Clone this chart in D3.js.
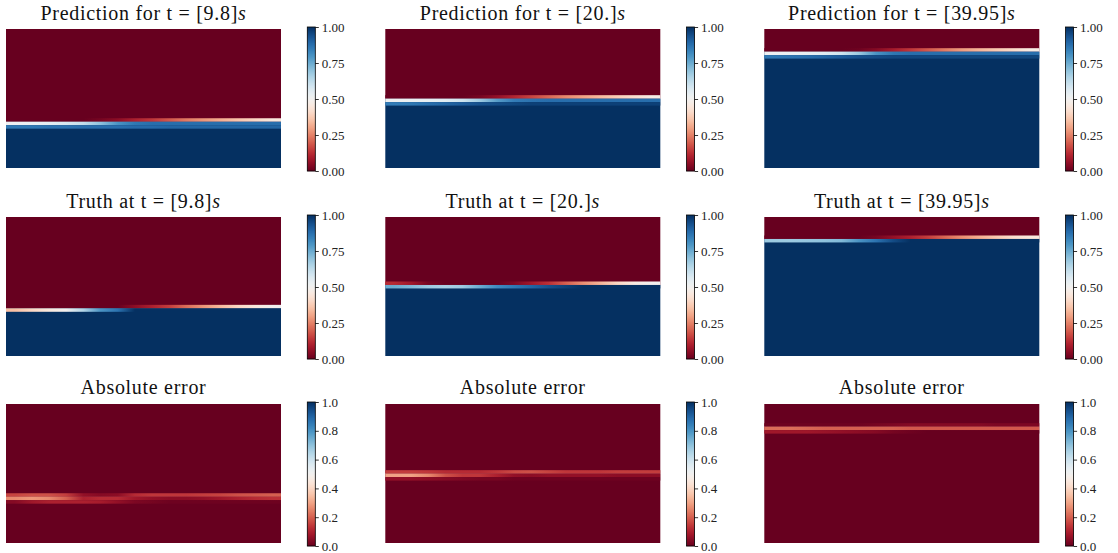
<!DOCTYPE html>
<html>
<head>
<meta charset="utf-8">
<script src="https://cdn.jsdelivr.net/npm/d3@7"></script>
<style>
  html, body { margin: 0; padding: 0; background: #fff; }
  svg { display: block; }
  .title { font-family: "Liberation Serif", "DejaVu Serif", serif; font-size: 20px; letter-spacing: 0.7px; fill: #111; }
  .cbar text { font-family: "Liberation Serif", "DejaVu Serif", serif; font-size: 13px; fill: #222; }
</style>
</head>
<body>
<svg id="fig" width="1118" height="553"></svg>
<script>
// Snapshot times shown in each column
const timeLabels = ["[9.8]", "[20.]", "[39.95]"];

// Height of the phase interface (fraction of tank depth) for each snapshot
const predLevel  = [0.333, 0.499, 0.837];
const truthLevel = [0.343, 0.511, 0.842];

// Volume-fraction samples along the tank (16 columns, left to right) in the mesh rows
// next to the interface: "Above" is the row just above it, "Below1/Below2" the rows under it.
const predAbove = [
  [0, 0, 0, 0, 0, 0.02, 0.05, 0.10, 0.14, 0.19, 0.24, 0.28, 0.32, 0.36, 0.40, 0.45],
  [0, 0, 0, 0, 0, 0.02, 0.06, 0.11, 0.16, 0.21, 0.26, 0.30, 0.34, 0.38, 0.42, 0.47],
  [0, 0, 0, 0, 0, 0.01, 0.04, 0.09, 0.14, 0.19, 0.24, 0.29, 0.33, 0.37, 0.41, 0.47]
];
const predBelow1 = [
  [0.52, 0.53, 0.55, 0.58, 0.62, 0.70, 0.80, 0.86, 0.88, 0.88, 0.88, 0.88, 0.88, 0.88, 0.88, 0.88],
  [0.52, 0.53, 0.54, 0.56, 0.60, 0.68, 0.78, 0.85, 0.87, 0.88, 0.88, 0.88, 0.88, 0.88, 0.88, 0.88],
  [0.52, 0.53, 0.54, 0.56, 0.60, 0.68, 0.80, 0.86, 0.88, 0.88, 0.88, 0.88, 0.88, 0.88, 0.88, 0.88]
];
const predBelow2 = [
  [0.86, 0.86, 0.87, 0.87, 0.88, 0.88, 0.88, 0.89, 0.89, 0.90, 0.90, 0.90, 0.90, 0.90, 0.90, 0.90],
  [0.85, 0.86, 0.88, 0.90, 0.92, 0.94, 0.95, 0.96, 0.97, 0.97, 0.97, 0.97, 0.97, 0.97, 0.97, 0.97],
  [0.86, 0.87, 0.88, 0.90, 0.92, 0.94, 0.95, 0.96, 0.96, 0.96, 0.96, 0.96, 0.96, 0.96, 0.96, 0.96]
];
const truthAbove = [
  [0, 0, 0, 0, 0, 0, 0, 0.05, 0.10, 0.15, 0.22, 0.28, 0.34, 0.40, 0.45, 0.50],
  [0.12, 0.08, 0.02, 0, 0, 0, 0, 0.03, 0.08, 0.13, 0.20, 0.27, 0.33, 0.40, 0.46, 0.50],
  [0, 0, 0, 0, 0, 0, 0.02, 0.06, 0.10, 0.15, 0.21, 0.27, 0.32, 0.37, 0.42, 0.45]
];
const truthBelow1 = [
  [0.35, 0.40, 0.45, 0.50, 0.65, 0.80, 0.87, 1, 1, 1, 1, 1, 1, 1, 1, 1],
  [0.75, 0.72, 0.68, 0.66, 0.68, 0.75, 0.82, 0.86, 0.90, 0.94, 0.97, 1, 1, 1, 1, 1],
  [0.68, 0.68, 0.69, 0.70, 0.72, 0.80, 0.87, 0.95, 1, 1, 1, 1, 1, 1, 1, 1]
];
const errAbove = [
  [0.16, 0.18, 0.18, 0.15, 0.06, 0.04, 0.05, 0.12, 0.14, 0.14, 0.14, 0.15, 0.16, 0.18, 0.19, 0.20],
  [0.15, 0.15, 0.14, 0.12, 0.12, 0.12, 0.14, 0.17, 0.18, 0.16, 0.14, 0.14, 0.14, 0.15, 0.15, 0.15],
  [0.01, 0.01, 0.01, 0.01, 0.01, 0.01, 0.02, 0.03, 0.04, 0.04, 0.04, 0.04, 0.04, 0.03, 0.03, 0.03]
];
const errBelow1 = [
  [0.26, 0.28, 0.26, 0.20, 0.10, 0.12, 0.12, 0.08, 0.06, 0.05, 0.05, 0.06, 0.08, 0.10, 0.12, 0.13],
  [0.30, 0.30, 0.26, 0.18, 0.14, 0.14, 0.10, 0.06, 0.05, 0.06, 0.06, 0.06, 0.06, 0.05, 0.05, 0.05],
  [0.22, 0.22, 0.21, 0.20, 0.20, 0.20, 0.20, 0.20, 0.19, 0.19, 0.19, 0.19, 0.19, 0.19, 0.19, 0.19]
];
const errBelow2 = [
  [0.04, 0.08, 0.10, 0.10, 0.10, 0.09, 0.06, 0.03, 0.02, 0.01, 0.01, 0.01, 0.01, 0.01, 0.01, 0.01],
  [0.06, 0.06, 0.05, 0.04, 0.03, 0.02, 0.02, 0.01, 0.01, 0.01, 0.01, 0.01, 0.01, 0.01, 0.01, 0.01],
  [0.08, 0.08, 0.08, 0.07, 0.06, 0.05, 0.04, 0.02, 0.01, 0, 0, 0, 0, 0, 0, 0]
];

// Colorbar ticks
const fieldTicks = [0, 0.25, 0.5, 0.75, 1];
const errorTicks = [0, 0.2, 0.4, 0.6, 0.8, 1];

// ---- layout ----
const colLeft = [6, 385.3, 764.3];
const rowTop = [29, 217, 404];
const mapW = 275, mapH = 139;
const cbOffset = 301.3, cbW = 8, cbH = 144;
const titleBase = [20, 207.5, 394];
const rowDy = 0.025;              // mesh row height in tank-depth units
const tankLen = 2;                // tank length / depth

const svg = d3.select("#fig");
const defs = svg.append("defs");
const color = d3.scaleSequential(d3.interpolateRdBu).domain([0, 1]);
let gradId = 0;

function bandFill(values) {
  const id = "band" + (gradId++);
  const g = defs.append("linearGradient").attr("id", id)
    .attr("x1", "0").attr("x2", "1").attr("y1", "0").attr("y2", "0");
  const n = values.length;
  g.selectAll("stop").data(values).join("stop")
    .attr("offset", (d, i) => (i + 0.5) / n)
    .attr("stop-color", d => color(d));
  return "url(#" + id + ")";
}

function drawField(col, row, level, topVal, bottomVal, rows) {
  const x = d3.scaleLinear().domain([0, tankLen]).range([colLeft[col], colLeft[col] + mapW]);
  const y = d3.scaleLinear().domain([0, 1]).range([rowTop[row] + mapH, rowTop[row]]);
  const g = svg.append("g");
  // bulk of each phase
  g.append("rect").attr("x", x(0)).attr("width", x(tankLen) - x(0))
    .attr("y", y(1)).attr("height", y(level) - y(1)).attr("fill", color(topVal));
  g.append("rect").attr("x", x(0)).attr("width", x(tankLen) - x(0))
    .attr("y", y(level)).attr("height", y(0) - y(level)).attr("fill", color(bottomVal));
  // mesh rows around the interface
  rows.forEach(r => {
    const y0 = level + r.k * rowDy, y1 = y0 + rowDy;
    g.append("rect").attr("x", x(0)).attr("width", x(tankLen) - x(0))
      .attr("y", y(y1)).attr("height", y(y0) - y(y1))
      .attr("fill", bandFill(r.values));
  });
}

function drawColorbar(col, row, ticks, fmt) {
  const left = colLeft[col] + cbOffset, top = rowTop[row] - 2;
  const s = d3.scaleLinear().domain([0, 1]).range([top + cbH, top]);
  const g = svg.append("g").attr("class", "cbar");
  const steps = d3.range(0, cbH);
  g.selectAll("rect.step").data(steps).join("rect").attr("class", "step")
    .attr("x", left).attr("width", cbW)
    .attr("y", d => top + cbH - d - 1).attr("height", 1.2)
    .attr("fill", d => color((d + 0.5) / cbH));
  g.append("rect").attr("x", left).attr("y", top).attr("width", cbW).attr("height", cbH)
    .attr("fill", "none").attr("stroke", "#000").attr("stroke-width", 0.8);
  const ax = g.append("g").attr("transform", `translate(${left + cbW},0)`)
    .call(d3.axisRight(s).tickValues(ticks).tickFormat(d3.format(fmt)).tickSize(3.5).tickPadding(3));
  ax.select(".domain").remove();
  ax.selectAll(".tick line").attr("stroke", "#000").attr("stroke-width", 0.8);
  ax.selectAll(".tick text").attr("font-family", null).attr("font-size", null).attr("fill", "#222");
}

function drawTitle(col, row, text, italic) {
  const t = svg.append("text").attr("class", "title")
    .attr("x", colLeft[col] + mapW / 2).attr("y", titleBase[row])
    .attr("text-anchor", "middle").text(text);
  if (italic) t.append("tspan").attr("font-style", "italic").text(italic);
}

for (let c = 0; c < 3; c++) {
  // predicted field
  drawField(c, 0, predLevel[c], 0, 1, [
    { k: 0, values: predAbove[c] },
    { k: -1, values: predBelow1[c] },
    { k: -2, values: predBelow2[c] }
  ]);
  drawTitle(c, 0, "Prediction for t = " + timeLabels[c], "s");
  drawColorbar(c, 0, fieldTicks, ".2f");

  // reference field
  drawField(c, 1, truthLevel[c], 0, 1, [
    { k: 0, values: truthAbove[c] },
    { k: -1, values: truthBelow1[c] }
  ]);
  drawTitle(c, 1, "Truth at t = " + timeLabels[c], "s");
  drawColorbar(c, 1, fieldTicks, ".2f");

  // absolute error
  drawField(c, 2, predLevel[c], 0, 0, [
    { k: 0, values: errAbove[c] },
    { k: -1, values: errBelow1[c] },
    { k: -2, values: errBelow2[c] }
  ]);
  drawTitle(c, 2, "Absolute error", null);
  drawColorbar(c, 2, errorTicks, ".1f");
}
</script>
</body>
</html>
